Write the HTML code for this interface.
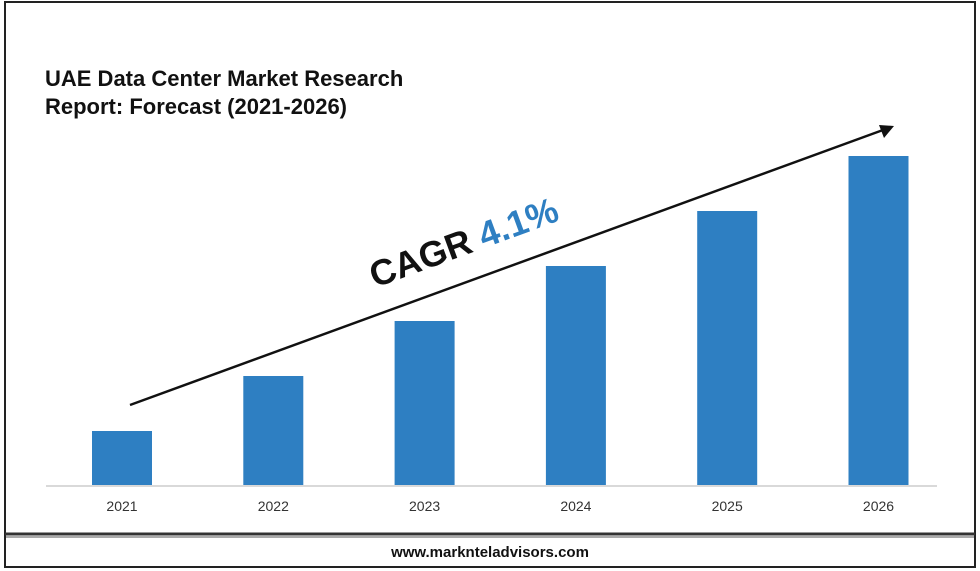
<!DOCTYPE html>
<html><head><meta charset="utf-8"><style>
html,body{margin:0;padding:0;background:#fff;width:980px;height:571px;overflow:hidden;font-family:"Liberation Sans",sans-serif}
</style></head><body>
<svg width="980" height="571" viewBox="0 0 980 571">
<rect x="5" y="2" width="970" height="565" fill="#fff" stroke="#222" stroke-width="2"/>
<line x1="5" y1="534" x2="975" y2="534" stroke="#333" stroke-width="3"/>
<line x1="6" y1="537" x2="974" y2="537" stroke="#aaa" stroke-width="2"/>
<text x="45" y="86" font-size="22" font-weight="bold" fill="#111">UAE Data Center Market Research</text>
<text x="45" y="114" font-size="22" font-weight="bold" fill="#111">Report: Forecast (2021-2026)</text>
<g id="bars"></g>
<line x1="46" y1="486" x2="937" y2="486" stroke="#d9d9d9" stroke-width="2"/>
<g id="labels"></g>
<line x1="130" y1="405" x2="883" y2="130" stroke="#111" stroke-width="2.5"/>
<polygon points="894,126 879,125 884,138" fill="#111"/>
<text transform="translate(375,288) rotate(-20.1)" font-size="36" font-weight="bold" fill="#111">CAGR <tspan fill="#2e7fc2">4.1%</tspan></text>
<text x="490" y="557" font-size="15" font-weight="bold" fill="#111" text-anchor="middle">www.marknteladvisors.com</text>
</svg>
<script>
const categories=["2021","2022","2023","2024","2025","2026"];
const values=[1,2,3,4,5,6];
const yMax=6;
const ns="http://www.w3.org/2000/svg";
const x0=46,x1=937,base=486,plotH=330,barW=60;
const step=(x1-x0+17)/categories.length;
function xc(i){return 122+i*151.3;}
function yv(v){return base-v/yMax*plotH;}
const gb=document.getElementById('bars'),gl=document.getElementById('labels');
categories.forEach((c,i)=>{
 const r=document.createElementNS(ns,'rect');
 r.setAttribute('x',xc(i)-barW/2);r.setAttribute('y',yv(values[i]));
 r.setAttribute('width',barW);r.setAttribute('height',base-yv(values[i]));
 r.setAttribute('fill','#2e7fc2');
 
 
 gb.appendChild(r);
 const t=document.createElementNS(ns,'text');
 t.setAttribute('x',xc(i));t.setAttribute('y',511);
 t.setAttribute('text-anchor','middle');t.setAttribute('font-size','14');t.setAttribute('fill','#333');
 t.textContent=c;
 
 
 gl.appendChild(t);
});
</script>
</body></html>
